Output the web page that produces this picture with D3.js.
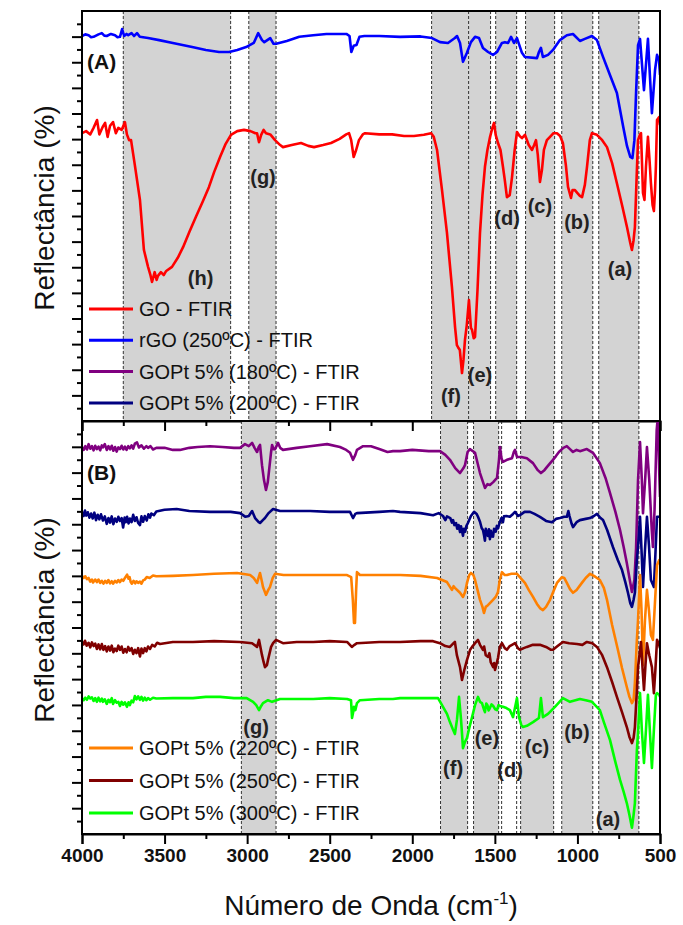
<!DOCTYPE html>
<html>
<head>
<meta charset="utf-8">
<script src="https://cdn.jsdelivr.net/npm/d3@7"></script>
<style>
  html, body { margin: 0; padding: 0; background: #fff; }
  svg { display: block; font-family: Arial, "Liberation Sans", sans-serif; }
</style>
</head>
<body>
<svg id="chart" width="683" height="925"></svg>
<script>
// FTIR spectra: [wavenumber (cm-1), reflectance (%)] for each sample, offset for stacking

const goSpectrum = [[4000,70.2],[3975,70.7],[3950,69.9],[3930,71.5],[3909,73.4],[3895,69.9],[3875,71.7],[3860,72.7],[3845,69.3],[3830,72.0],[3812,72.9],[3795,70.2],[3780,71.5],[3760,71.0],[3740,72.9],[3728,69.9],[3715,68.5],[3703,68.5],[3680,62.4],[3649,53.9],[3625,41.7],[3600,37.6],[3585,35.5],[3576,33.9],[3560,36.3],[3548,34.4],[3540,35.4],[3522,36.3],[3505,35.6],[3490,36.6],[3455,37.6],[3420,39.8],[3388,42.4],[3350,46.1],[3310,49.8],[3270,53.4],[3231,57.1],[3200,60.7],[3164,64.4],[3130,67.6],[3098,69.8],[3060,70.7],[3019,71.0],[2980,70.7],[2950,70.2],[2940,70.2],[2928,68.0],[2915,69.8],[2900,71.0],[2886,70.2],[2860,69.9],[2831,68.5],[2800,67.3],[2783,66.8],[2730,67.3],[2674,67.8],[2630,67.1],[2595,66.8],[2540,67.3],[2492,67.8],[2440,68.8],[2400,69.9],[2383,70.2],[2370,68.5],[2355,64.4],[2340,66.1],[2323,68.5],[2300,69.9],[2286,70.2],[2200,69.9],[2122,69.9],[2050,69.5],[1990,69.5],[1930,69.8],[1886,70.2],[1870,69.3],[1850,66.1],[1820,56.3],[1790,45.9],[1760,32.7],[1741,22.9],[1730,18.5],[1723,18.0],[1712,17.3],[1699,11.7],[1690,14.9],[1681,19.8],[1670,23.4],[1657,29.5],[1645,22.7],[1638,22.2],[1628,20.2],[1620,20.5],[1605,32.0],[1590,45.9],[1575,55.1],[1560,62.0],[1545,66.1],[1529,69.3],[1515,71.5],[1505,72.7],[1495,69.8],[1481,67.8],[1466,66.1],[1451,62.0],[1440,58.8],[1427,54.6],[1410,55.1],[1396,59.5],[1380,66.1],[1366,70.5],[1350,69.5],[1336,69.0],[1318,69.8],[1295,67.3],[1275,66.1],[1262,67.3],[1251,68.5],[1240,64.9],[1227,58.3],[1215,61.2],[1203,66.1],[1185,68.5],[1166,69.3],[1145,70.2],[1124,70.2],[1105,69.5],[1088,67.8],[1070,62.4],[1057,57.1],[1039,54.4],[1030,56.3],[1015,56.3],[1000,55.6],[985,54.9],[972,54.6],[955,57.6],[942,62.0],[925,68.5],[912,70.2],[882,69.8],[850,68.5],[821,66.8],[790,62.9],[761,58.0],[730,52.7],[700,47.3],[680,43.4],[670,41.7],[660,44.1],[652,47.3],[640,61.2],[633,68.5],[622,69.8],[615,70.2],[603,55.6],[594,53.9],[585,62.0],[573,69.3],[563,63.4],[555,58.0],[545,52.7],[537,51.2],[530,56.3],[525,62.0],[518,73.4],[506,74.1],[500,72.2]];

const rgoSpectrum = [[4000,93.9],[3980,94.3],[3960,94.1],[3945,93.6],[3930,93.7],[3900,94.3],[3880,94.6],[3865,94.0],[3850,93.9],[3825,94.4],[3800,94.1],[3785,93.6],[3770,93.7],[3757,95.6],[3745,93.9],[3730,94.4],[3720,94.1],[3700,94.6],[3685,93.9],[3667,94.6],[3650,93.7],[3600,93.4],[3533,92.9],[3450,92.2],[3333,91.2],[3250,90.5],[3170,90.0],[3109,90.0],[3060,90.5],[3006,91.2],[2960,92.2],[2933,94.6],[2910,92.9],[2896,92.4],[2860,93.4],[2840,92.0],[2824,92.0],[2760,92.7],[2684,93.7],[2600,94.1],[2520,94.4],[2399,94.4],[2380,93.9],[2369,90.0],[2355,91.5],[2338,91.7],[2320,93.7],[2290,93.9],[2200,93.9],[2074,93.7],[1950,93.8],[1881,93.4],[1832,92.4],[1784,92.2],[1742,93.4],[1729,93.9],[1711,92.2],[1693,87.6],[1669,89.8],[1645,92.4],[1620,93.7],[1596,93.4],[1572,91.0],[1541,90.0],[1511,89.3],[1487,90.0],[1457,92.2],[1439,92.4],[1420,92.2],[1402,93.7],[1384,92.2],[1366,93.4],[1336,89.8],[1318,88.8],[1245,88.5],[1233,90.0],[1221,91.0],[1209,88.8],[1178,89.3],[1148,90.5],[1106,92.9],[1064,94.1],[1027,94.4],[985,92.7],[955,93.2],[912,93.9],[882,92.9],[845,88.8],[803,84.4],[761,80.0],[724,72.0],[700,67.1],[680,64.4],[667,64.1],[655,68.5],[645,80.0],[633,91.7],[621,93.2],[597,80.7],[573,93.2],[549,75.1],[530,85.6],[518,89.3],[506,88.0],[500,84.4]];

const gopt180Spectrum = [[4000,93.7],[3990,93.0],[3980,93.9],[3970,93.1],[3960,94.4],[3950,93.3],[3940,93.9],[3930,92.9],[3920,94.0],[3910,93.2],[3900,93.8],[3890,92.9],[3880,94.1],[3873,93.6],[3862,94.4],[3850,93.0],[3840,93.9],[3830,93.1],[3820,94.0],[3810,92.8],[3800,93.7],[3790,92.6],[3780,93.6],[3770,93.2],[3760,94.0],[3750,93.1],[3740,93.8],[3730,93.0],[3720,93.9],[3710,93.4],[3700,94.1],[3690,93.3],[3680,94.5],[3667,94.8],[3655,93.6],[3640,94.1],[3625,93.3],[3610,93.9],[3600,93.5],[3585,93.9],[3570,93.1],[3550,93.5],[3500,93.5],[3450,93.0],[3407,93.0],[3350,93.5],[3300,93.7],[3225,93.9],[3150,93.7],[3080,93.5],[3043,93.5],[3013,94.4],[2990,93.9],[2970,94.7],[2955,93.5],[2940,92.5],[2930,93.7],[2922,94.2],[2910,89.3],[2898,85.7],[2886,83.3],[2875,85.2],[2867,88.1],[2855,92.5],[2849,94.2],[2840,93.2],[2831,93.2],[2813,94.7],[2800,93.5],[2783,93.0],[2700,93.5],[2620,93.9],[2516,94.4],[2438,93.7],[2400,93.0],[2377,92.3],[2359,90.6],[2345,91.8],[2335,93.0],[2298,93.9],[2250,93.9],[2200,93.2],[2150,92.5],[2117,92.7],[2074,92.7],[2000,93.0],[1900,92.7],[1832,92.7],[1800,91.8],[1772,90.6],[1740,88.6],[1711,87.4],[1690,88.6],[1681,89.3],[1665,92.5],[1651,93.2],[1620,92.3],[1590,87.4],[1560,83.8],[1545,84.7],[1530,84.5],[1510,85.2],[1487,86.2],[1475,90.6],[1469,93.7],[1460,91.0],[1451,90.1],[1427,90.6],[1396,91.0],[1385,92.5],[1378,93.0],[1366,91.3],[1340,91.3],[1306,91.0],[1269,89.8],[1240,88.1],[1221,87.4],[1200,88.1],[1184,88.9],[1165,89.8],[1148,90.6],[1130,91.5],[1112,92.5],[1085,93.5],[1064,93.9],[1045,93.2],[1027,92.5],[1005,93.0],[985,92.7],[943,93.2],[906,92.3],[864,89.8],[830,86.2],[803,82.6],[770,78.0],[742,73.6],[720,69.5],[701,65.6],[685,62.0],[670,58.6],[655,61.5],[645,69.2],[633,85.7],[621,94.9],[610,85.7],[603,77.7],[590,85.7],[579,93.7],[565,85.7],[550,73.6],[543,69.5],[533,78.5],[520,97.8],[512,101.5],[505,88.1],[500,81.6]];

const gopt200Spectrum = [[4000,78.0],[3990,77.0],[3982,78.3],[3975,77.1],[3965,77.9],[3955,76.6],[3945,77.6],[3935,76.4],[3925,77.8],[3915,76.0],[3905,77.3],[3895,76.2],[3885,77.4],[3873,75.9],[3862,76.9],[3850,75.1],[3840,76.5],[3830,75.4],[3820,76.9],[3810,75.0],[3800,76.4],[3790,75.6],[3780,76.8],[3770,75.8],[3760,76.5],[3751,74.2],[3742,76.6],[3735,75.5],[3727,76.8],[3718,75.2],[3710,76.4],[3700,75.5],[3690,77.3],[3680,75.8],[3670,76.7],[3660,75.3],[3649,74.8],[3640,76.9],[3630,75.6],[3620,77.0],[3608,75.9],[3598,77.4],[3588,76.6],[3580,77.6],[3565,77.2],[3550,78.1],[3500,78.5],[3427,78.7],[3350,78.2],[3225,78.0],[3100,78.0],[3043,77.7],[3010,76.8],[2990,77.0],[2970,78.2],[2952,76.5],[2930,75.5],[2922,75.3],[2905,76.0],[2892,76.5],[2870,77.7],[2843,78.7],[2801,78.2],[2700,78.2],[2619,78.2],[2500,78.0],[2400,78.0],[2377,78.0],[2359,76.5],[2345,77.5],[2335,77.7],[2200,78.0],[2117,78.2],[2074,78.0],[1950,77.7],[1874,77.2],[1840,77.7],[1814,77.0],[1800,76.0],[1790,76.9],[1770,76.5],[1760,75.4],[1753,76.0],[1745,74.8],[1735,75.3],[1728,73.9],[1720,74.8],[1711,73.1],[1705,74.5],[1700,73.6],[1693,72.2],[1687,73.9],[1680,73.2],[1672,74.6],[1663,75.3],[1645,77.0],[1626,78.0],[1610,77.5],[1602,76.8],[1590,75.6],[1580,74.1],[1572,73.6],[1565,72.2],[1560,71.0],[1555,73.9],[1550,72.8],[1542,72.2],[1536,73.8],[1530,71.4],[1524,73.4],[1520,72.2],[1511,72.0],[1505,73.9],[1495,73.2],[1488,74.6],[1481,74.0],[1470,75.5],[1460,76.5],[1451,75.5],[1445,76.9],[1430,77.0],[1409,76.8],[1390,77.5],[1378,78.0],[1360,77.0],[1348,77.2],[1320,78.0],[1287,78.0],[1260,77.5],[1227,76.8],[1190,75.8],[1154,75.5],[1130,76.3],[1106,76.5],[1080,76.8],[1064,76.8],[1055,78.2],[1048,77.0],[1035,75.1],[1027,74.3],[1005,75.5],[985,76.0],[950,76.3],[924,76.5],[900,77.0],[882,77.5],[860,76.5],[845,76.0],[820,73.6],[785,69.5],[755,66.3],[730,63.9],[710,61.0],[694,58.4],[680,55.9],[670,55.0],[660,56.7],[652,58.4],[640,66.3],[633,69.5],[621,76.8],[612,68.8],[603,59.8],[591,68.8],[579,76.8],[567,70.0],[555,61.5],[537,59.8],[528,67.6],[518,76.8],[500,76.8]];

const gopt220Spectrum = [[4000,62.5],[3990,62.0],[3980,62.4],[3970,61.7],[3960,62.0],[3950,61.1],[3940,61.6],[3933,60.9],[3920,61.6],[3910,61.0],[3900,61.6],[3890,60.8],[3880,61.3],[3870,60.6],[3860,61.3],[3850,60.8],[3840,61.5],[3830,60.7],[3820,61.2],[3812,60.6],[3800,61.3],[3790,60.9],[3780,61.5],[3770,61.0],[3760,61.6],[3750,61.3],[3740,62.0],[3727,62.8],[3718,61.8],[3712,62.2],[3705,61.0],[3698,60.6],[3688,61.3],[3678,60.7],[3670,61.2],[3660,60.8],[3649,61.1],[3640,60.6],[3630,61.4],[3620,61.6],[3608,62.2],[3590,62.0],[3570,62.6],[3550,62.4],[3450,62.5],[3328,62.7],[3200,63.0],[3061,63.2],[2982,62.7],[2960,62.0],[2940,60.8],[2922,63.2],[2910,61.0],[2904,59.8],[2886,57.9],[2872,59.1],[2862,59.8],[2845,62.0],[2831,63.0],[2780,62.7],[2722,62.7],[2600,62.7],[2500,62.7],[2395,62.7],[2370,62.2],[2360,56.7],[2353,51.1],[2347,51.1],[2340,59.1],[2335,63.4],[2317,62.7],[2200,62.7],[2117,62.7],[2074,62.7],[1950,62.5],[1850,62.0],[1820,61.5],[1790,61.0],[1760,59.1],[1750,60.0],[1742,59.6],[1711,58.4],[1693,57.4],[1680,58.6],[1669,60.8],[1655,62.7],[1645,63.2],[1630,62.7],[1620,61.5],[1605,59.1],[1590,56.7],[1575,55.0],[1566,53.5],[1555,55.0],[1542,55.4],[1530,55.9],[1511,56.7],[1495,57.4],[1481,58.6],[1470,61.5],[1457,63.4],[1440,62.7],[1427,62.7],[1400,63.0],[1366,63.0],[1345,62.0],[1318,60.8],[1295,59.1],[1269,57.4],[1245,55.7],[1227,54.7],[1209,54.2],[1190,55.0],[1166,56.7],[1145,58.8],[1124,60.8],[1094,62.2],[1080,62.0],[1064,60.8],[1045,59.3],[1027,58.4],[1005,59.1],[973,60.8],[950,62.0],[924,63.0],[900,62.5],[864,61.5],[840,59.6],[821,56.7],[790,50.6],[755,44.6],[730,40.2],[701,35.6],[685,33.2],[670,31.7],[660,32.4],[652,36.6],[640,47.0],[633,51.8],[621,62.7],[612,54.2],[603,40.9],[591,51.8],[579,59.1],[567,54.2],[555,48.2],[543,47.0],[533,54.2],[518,65.1],[505,66.3],[500,65.9]];

const gopt250Spectrum = [[4000,46.5],[3990,45.9],[3982,46.8],[3972,45.6],[3960,46.3],[3950,45.2],[3940,46.4],[3930,45.5],[3920,46.1],[3910,44.8],[3900,45.9],[3890,44.7],[3880,46.0],[3870,44.6],[3860,45.5],[3850,44.2],[3840,45.4],[3830,44.4],[3820,45.6],[3810,44.0],[3800,44.9],[3790,44.3],[3780,45.6],[3770,44.6],[3760,45.4],[3750,43.9],[3740,44.8],[3730,44.0],[3720,45.3],[3710,44.4],[3700,45.0],[3690,43.6],[3680,44.6],[3670,43.8],[3660,45.0],[3649,43.0],[3640,44.9],[3630,43.8],[3620,45.0],[3610,44.2],[3600,45.4],[3588,44.8],[3575,45.8],[3560,45.4],[3545,46.3],[3528,46.0],[3450,46.5],[3328,46.5],[3200,46.7],[3043,46.5],[2970,46.2],[2940,45.3],[2928,47.0],[2910,43.3],[2900,41.6],[2892,40.4],[2880,40.9],[2874,42.1],[2855,45.3],[2843,46.2],[2825,47.0],[2783,46.2],[2700,46.5],[2600,46.5],[2500,46.7],[2395,46.5],[2366,45.3],[2350,45.8],[2335,46.2],[2200,46.5],[2117,46.5],[2074,46.5],[1950,46.7],[1874,46.7],[1832,46.2],[1800,45.5],[1772,45.3],[1750,46.2],[1742,46.5],[1730,43.3],[1711,40.4],[1699,37.3],[1685,39.7],[1669,42.1],[1650,44.6],[1638,45.3],[1620,46.2],[1602,47.0],[1590,45.8],[1572,44.6],[1565,45.4],[1555,43.3],[1541,42.9],[1533,43.8],[1525,41.6],[1510,40.4],[1504,41.4],[1499,39.7],[1481,42.6],[1470,45.3],[1457,46.2],[1440,45.0],[1427,44.6],[1410,45.5],[1396,45.8],[1378,46.2],[1360,45.0],[1348,44.6],[1325,45.0],[1306,45.3],[1270,45.8],[1227,45.8],[1190,45.3],[1160,44.6],[1148,44.6],[1120,45.5],[1088,46.5],[1050,46.2],[1003,46.0],[970,45.8],[943,46.5],[910,46.2],[882,45.3],[850,43.3],[821,40.4],[790,36.8],[761,33.2],[730,29.5],[701,25.9],[685,23.5],[670,22.0],[660,23.2],[652,25.9],[640,34.9],[633,40.4],[615,46.5],[605,39.7],[597,34.9],[588,40.9],[579,46.2],[565,43.3],[549,40.4],[537,34.1],[528,39.7],[518,47.0],[505,45.8],[500,45.0]];

const gopt300Spectrum = [[4000,32.9],[3990,32.4],[3980,33.0],[3970,32.5],[3960,33.3],[3950,32.8],[3940,33.1],[3930,32.2],[3920,32.9],[3910,32.0],[3900,33.0],[3890,32.1],[3880,32.8],[3873,32.0],[3862,32.6],[3850,31.5],[3840,32.5],[3830,31.9],[3820,32.9],[3812,31.5],[3800,32.4],[3790,31.8],[3780,32.0],[3770,31.0],[3760,32.0],[3750,31.3],[3740,31.9],[3728,30.8],[3718,31.9],[3710,31.2],[3700,32.3],[3690,31.9],[3680,33.4],[3670,32.6],[3660,33.3],[3649,32.5],[3640,33.2],[3630,32.3],[3620,33.0],[3610,32.4],[3600,32.9],[3588,32.5],[3570,33.0],[3550,32.8],[3450,32.9],[3328,32.9],[3250,33.2],[3164,33.2],[3080,32.9],[3003,32.9],[2964,32.0],[2945,31.2],[2928,30.0],[2915,31.0],[2904,31.7],[2874,32.4],[2849,32.0],[2801,32.7],[2700,32.7],[2600,32.7],[2500,32.9],[2395,32.7],[2371,32.4],[2365,28.1],[2358,29.5],[2353,30.8],[2345,30.0],[2335,31.7],[2317,32.4],[2200,32.7],[2117,32.7],[2074,32.9],[1950,32.9],[1844,32.9],[1814,30.8],[1790,29.1],[1772,27.1],[1755,25.4],[1742,24.2],[1729,27.8],[1717,33.2],[1705,27.8],[1693,20.8],[1681,22.3],[1669,23.2],[1655,25.7],[1638,28.3],[1620,31.2],[1602,33.2],[1590,32.0],[1578,31.7],[1568,30.4],[1560,29.5],[1552,31.6],[1545,31.2],[1538,29.9],[1530,30.5],[1520,31.4],[1510,31.0],[1498,30.2],[1487,30.0],[1478,31.2],[1470,31.0],[1451,30.8],[1430,30.5],[1409,30.0],[1390,28.3],[1375,31.2],[1366,32.9],[1354,28.3],[1340,26.4],[1330,25.9],[1306,26.2],[1269,27.1],[1233,28.1],[1221,32.9],[1209,28.3],[1178,29.1],[1136,30.8],[1088,32.9],[1045,32.0],[985,32.7],[950,32.4],[912,32.0],[864,30.0],[840,27.1],[803,22.8],[770,17.4],[742,13.1],[720,10.2],[701,7.5],[685,4.6],[670,1.5],[660,4.6],[652,7.5],[640,20.3],[633,24.5],[621,34.1],[610,25.2],[597,17.2],[585,25.2],[573,33.7],[560,24.0],[549,16.0],[537,25.2],[525,33.7],[518,34.1],[505,33.7],[500,33.2]];

// Series per panel
const seriesA = [
  { name: "GO - FTIR", color: "#ff0000", data: goSpectrum },
  { name: "rGO (250ºC) - FTIR", color: "#0000ff", data: rgoSpectrum }
];
const seriesB = [
  { name: "GOPt 5% (180ºC) - FTIR", color: "#800080", data: gopt180Spectrum },
  { name: "GOPt 5% (200ºC) - FTIR", color: "#000080", data: gopt200Spectrum },
  { name: "GOPt 5% (220ºC) - FTIR", color: "#ff8000", data: gopt220Spectrum },
  { name: "GOPt 5% (250ºC) - FTIR", color: "#800000", data: gopt250Spectrum },
  { name: "GOPt 5% (300ºC) - FTIR", color: "#00ff00", data: gopt300Spectrum }
];

// Legend entries per panel
const legendA = [
  { name: "GO - FTIR", color: "#ff0000" },
  { name: "rGO (250ºC) - FTIR", color: "#0000ff" },
  { name: "GOPt 5% (180ºC) - FTIR", color: "#800080" },
  { name: "GOPt 5% (200ºC) - FTIR", color: "#000080" }
];
const legendB = [
  { name: "GOPt 5% (220ºC) - FTIR", color: "#ff8000" },
  { name: "GOPt 5% (250ºC) - FTIR", color: "#800000" },
  { name: "GOPt 5% (300ºC) - FTIR", color: "#00ff00" }
];

// Assignment bands [from, to] in cm-1
const bandsA = [
  { id: "h", from: 3750, to: 3100, fill: true },
  { id: "g", from: 2990, to: 2825, fill: true },
  { id: "f", from: 1883, to: 1659, fill: true },
  { id: "e", from: 1659, to: 1526, fill: true },
  { id: "d", from: 1495, to: 1368, fill: true },
  { id: "c", from: 1314, to: 1138, fill: true },
  { id: "b", from: 1095, to: 907, fill: true },
  { id: "a", from: 871, to: 628, fill: true }
];
const bandsB = [
  { id: "g", from: 3035, to: 2825, fill: true },
  { id: "f", from: 1829, to: 1665, fill: true },
  { id: "e", from: 1629, to: 1477, fill: true },
  { id: "d", from: 1459, to: 1368, fill: false },
  { id: "c", from: 1344, to: 1144, fill: true },
  { id: "b", from: 1095, to: 907, fill: true },
  { id: "a", from: 871, to: 628, fill: true }
];

// Band labels anchored at [wavenumber, reflectance]
const bandLabelsA = [
  { text: "(h)", wn: 3282, r: 34.9 },
  { text: "(g)", wn: 2904, r: 59.5 },
  { text: "(f)", wn: 1766, r: 6.1 },
  { text: "(e)", wn: 1590, r: 11.2 },
  { text: "(d)", wn: 1426, r: 49.5 },
  { text: "(c)", wn: 1227, r: 52.4 },
  { text: "(b)", wn: 1003, r: 48.5 },
  { text: "(a)", wn: 742, r: 37.1 }
];
const bandLabelsB = [
  { text: "(g)", wn: 2946, r: 25.9 },
  { text: "(f)", wn: 1753, r: 16.0 },
  { text: "(e)", wn: 1548, r: 23.2 },
  { text: "(d)", wn: 1408, r: 15.5 },
  { text: "(c)", wn: 1245, r: 21.1 },
  { text: "(b)", wn: 1003, r: 24.7 },
  { text: "(a)", wn: 815, r: 3.6 }
];

const xMajorTicks = [4000, 3500, 3000, 2500, 2000, 1500, 1000, 500];
const xMinorTicks = [3750, 3250, 2750, 2250, 1750, 1250, 750];
const yMajorTicks = d3.range(1, 16).map(k => k * 6.25);
const yMinorTicks = d3.range(0, 16).map(k => k * 6.25 + 3.125);

// ---- layout ----
const svg = d3.select("#chart");
const left = 82, right = 660;
const panels = [
  { key: "A", top: 11, bottom: 421, series: seriesA, bands: bandsA, labels: bandLabelsA, legend: legendA, legendY: 309, legendStep: 31.3, tag: "(A)", tagY: 62, titleY: 208, showXLabels: false },
  { key: "B", top: 421, bottom: 834, series: seriesB, bands: bandsB, labels: bandLabelsB, legend: legendB, legendY: 748, legendStep: 32.5, tag: "(B)", tagY: 473, titleY: 620, showXLabels: true }
];

const x = d3.scaleLinear().domain([4000, 500]).range([left, right]);

panels.forEach(p => {
  const y = d3.scaleLinear().domain([0, 100]).range([p.bottom, p.top]);
  const g = svg.append("g");

  const clipId = "clip" + p.key;
  svg.append("clipPath").attr("id", clipId)
    .append("rect").attr("x", left).attr("y", p.top).attr("width", right - left).attr("height", p.bottom - p.top);

  // shaded bands
  g.append("g").selectAll("rect").data(p.bands.filter(b => b.fill)).join("rect")
    .attr("x", d => x(d.from)).attr("width", d => x(d.to) - x(d.from))
    .attr("y", p.top).attr("height", p.bottom - p.top)
    .attr("fill", "#d3d3d3");

  // dashed band borders
  const edges = [];
  p.bands.forEach(b => { edges.push(b.from); edges.push(b.to); });
  g.append("g").selectAll("line").data(Array.from(new Set(edges))).join("line")
    .attr("x1", d => x(d)).attr("x2", d => x(d))
    .attr("y1", p.top).attr("y2", p.bottom)
    .attr("stroke", "#333").attr("stroke-width", 1).attr("stroke-dasharray", "3,2");

  // spectra
  const line = d3.line().x(d => x(d[0])).y(d => y(d[1]));
  g.append("g").attr("clip-path", `url(#${clipId})`)
    .selectAll("path").data(p.series).join("path")
    .attr("d", d => line(d.data))
    .attr("fill", "none").attr("stroke", d => d.color)
    .attr("stroke-width", 2.6).attr("stroke-linejoin", "round");

  // band labels
  g.append("g").selectAll("text").data(p.labels).join("text")
    .attr("x", d => x(d.wn)).attr("y", d => y(d.r))
    .attr("dy", "0.35em").attr("text-anchor", "middle")
    .attr("font-size", 20).attr("font-weight", "bold").attr("fill", "#222")
    .text(d => d.text);

  // panel tag
  g.append("text").attr("x", left + 5).attr("y", p.tagY).attr("dy", "0.35em")
    .attr("font-size", 21).attr("font-weight", "bold").attr("fill", "#111")
    .text(p.tag);

  // legend
  const lg = g.append("g").selectAll("g").data(p.legend).join("g")
    .attr("transform", (d, i) => `translate(89,${p.legendY + i * p.legendStep})`);
  lg.append("line").attr("x1", 0).attr("x2", 44).attr("y1", 0).attr("y2", 0)
    .attr("stroke", d => d.color).attr("stroke-width", 3);
  lg.append("text").attr("x", 50).attr("y", 0).attr("dy", "0.35em")
    .attr("font-size", 20).attr("fill", "#111").text(d => d.name);

  // x axis (bottom of each panel)
  const xAxisMajor = d3.axisBottom(x).tickValues(xMajorTicks).tickSize(10).tickPadding(5)
    .tickFormat(p.showXLabels ? d3.format("d") : () => "");
  const xAxisMinor = d3.axisBottom(x).tickValues(xMinorTicks).tickSize(5).tickFormat(() => "");
  const gx = svg.append("g").attr("transform", `translate(0,${p.bottom})`).call(xAxisMajor);
  svg.append("g").attr("transform", `translate(0,${p.bottom})`).call(xAxisMinor)
    .call(s => s.select(".domain").remove());
  gx.selectAll("text").attr("font-size", 19).attr("font-weight", "bold")
    .attr("font-family", "Arial, 'Liberation Sans', sans-serif").attr("fill", "#111");

  // y axis (left), ticks without labels
  const yAxisMajor = d3.axisLeft(y).tickValues(yMajorTicks).tickSize(10).tickFormat(() => "");
  const yAxisMinor = d3.axisLeft(y).tickValues(yMinorTicks).tickSize(5).tickFormat(() => "");
  svg.append("g").attr("transform", `translate(${left},0)`).call(yAxisMajor)
    .call(s => s.select(".domain").remove());
  svg.append("g").attr("transform", `translate(${left},0)`).call(yAxisMinor)
    .call(s => s.select(".domain").remove());

  // frame
  svg.append("rect").attr("x", left).attr("y", p.top)
    .attr("width", right - left).attr("height", p.bottom - p.top)
    .attr("fill", "none").attr("stroke", "#000").attr("stroke-width", 2);

  // y title
  svg.append("text").attr("transform", `translate(54,${p.titleY}) rotate(-90)`)
    .attr("text-anchor", "middle").attr("font-size", 28).attr("fill", "#111")
    .text("Reflectância (%)");
});

svg.selectAll(".tick line").attr("stroke", "#000").attr("stroke-width", 2);
svg.selectAll(".domain").attr("stroke", "#000").attr("stroke-width", 2);

// x title with superscript
const xt = svg.append("text").attr("x", (left + right) / 2).attr("y", 915)
  .attr("text-anchor", "middle").attr("font-size", 28).attr("fill", "#111");
xt.append("tspan").text("Número de Onda (cm");
xt.append("tspan").attr("font-size", 17).attr("dy", -11).text("-1");
xt.append("tspan").attr("dy", 11).text(")");
</script>
</body>
</html>
